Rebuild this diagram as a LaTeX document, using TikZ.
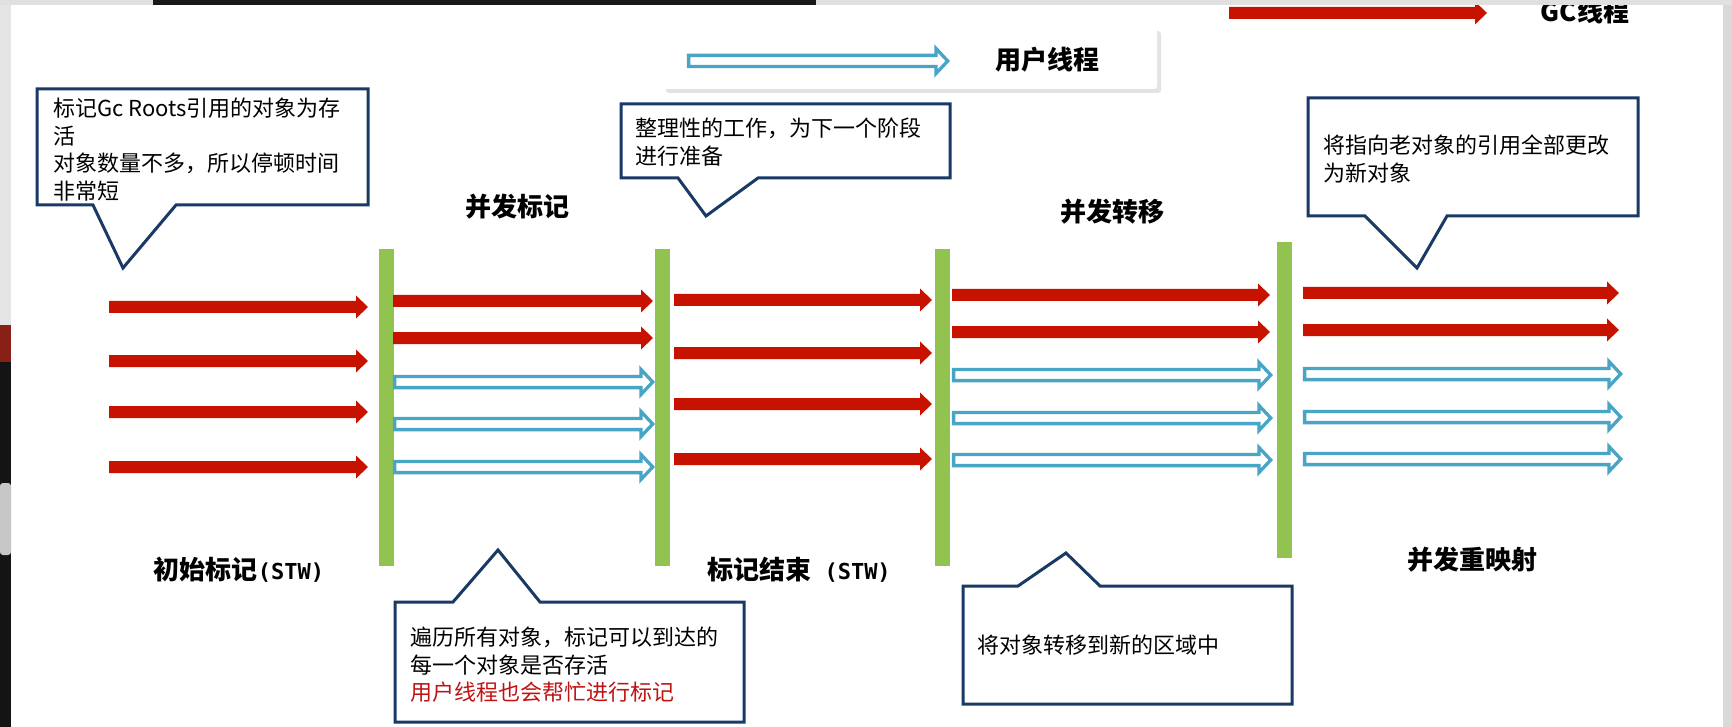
\documentclass[tikz,border=0pt]{standalone}
\usepackage{fontspec}
\setmainfont{Noto Sans CJK SC}
\newfontfamily\stwfont{DejaVu Sans Mono}
\usetikzlibrary{calc,shadows}
\definecolor{gcred}{RGB}{200,18,0}
\definecolor{ublue}{RGB}{72,165,198}
\definecolor{bargreen}{RGB}{146,194,80}
\definecolor{navy}{RGB}{24,58,100}
\definecolor{txtred}{RGB}{192,20,20}
\definecolor{edgered}{RGB}{170,40,30}
% red (GC thread) block arrow between two named coordinates
\newcommand\gcarrow[2]{\fill[gcred] ($(#1)+(0,-6)$) -- ($(#2)+(-12,-6)$) -- ($(#2)+(-12,-11.5)$) -- (#2) -- ($(#2)+(-12,11.5)$) -- ($(#2)+(-12,6)$) -- ($(#1)+(0,6)$) -- cycle;}
% hollow blue (user thread) block arrow between two named coordinates
\newcommand\usrarrow[2]{\draw[ublue, line width=3.3pt, fill=white, line join=miter] ($(#1)+(1.6,-5.6)$) -- ($(#2)+(-14,-5.6)$) -- ($(#2)+(-14,-12.5)$) -- ($(#2)+(-2.3,0)$) -- ($(#2)+(-14,12.5)$) -- ($(#2)+(-14,5.6)$) -- ($(#1)+(1.6,5.6)$) -- cycle;}
\begin{document}
\begin{tikzpicture}[x=1pt,y=-1pt,
  bar/.style={fill=bargreen, inner sep=0pt, minimum width=15pt, minimum height=317pt},
  callout/.style={draw=navy, line width=3pt, fill=white, line join=miter},
  body/.style={anchor=north west, inner sep=0pt, align=left, font=\fontsize{22}{27.5}\selectfont},
  phase/.style={inner sep=0pt, font=\fontsize{26}{30}\selectfont\bfseries}
]
\useasboundingbox (0,0) rectangle (1732,727);
\fill[white] (0,0) rectangle (1732,727);

% legend
\node[fill=white, rounded corners=3pt, minimum width=495pt, minimum height=62pt, inner sep=0pt,
      drop shadow={shadow xshift=4pt, shadow yshift=-4pt, opacity=0.22}] (legend) at (909.5,58) {};
\coordinate (lu1) at (687,61); \coordinate (lu2) at (950,61);
\usrarrow{lu1}{lu2}
\node[phase] (lgu) at (1047,60) {用户线程};
\coordinate (lg1) at (1229,13); \coordinate (lg2) at (1487,13);
\gcarrow{lg1}{lg2}
\node[phase] (lgg) at (1585,12) {GC线程};

% phase bars
\node[bar] (b1) at (386.5,407.5) {};
\node[bar] (b2) at (662.5,407.5) {};
\node[bar] (b3) at (942.5,407.5) {};
\node[bar, minimum height=316pt] (b4) at (1284,400) {};

% segment A: initial mark
\foreach \n/\y in {1/307,2/361,3/412,4/467}{
  \coordinate (as\n) at (109,\y); \coordinate (ae\n) at (368,\y);
  \gcarrow{as\n}{ae\n}
}
% segment B: concurrent mark
\foreach \n/\y in {1/301,2/338}{
  \coordinate (bs\n) at (393,\y); \coordinate (be\n) at (653,\y);
  \gcarrow{bs\n}{be\n}
}
\foreach \n/\y in {3/382,4/424,5/467}{
  \coordinate (bs\n) at (393,\y); \coordinate (be\n) at (655,\y);
  \usrarrow{bs\n}{be\n}
}
% segment C: mark end
\foreach \n/\y in {1/300,2/353,3/404,4/459}{
  \coordinate (cs\n) at (674,\y); \coordinate (ce\n) at (932,\y);
  \gcarrow{cs\n}{ce\n}
}
% segment D: concurrent relocate
\foreach \n/\y in {1/295,2/332}{
  \coordinate (ds\n) at (952,\y); \coordinate (de\n) at (1270,\y);
  \gcarrow{ds\n}{de\n}
}
\foreach \n/\y in {3/375,4/418,5/460}{
  \coordinate (ds\n) at (952,\y); \coordinate (de\n) at (1273,\y);
  \usrarrow{ds\n}{de\n}
}
% segment E: concurrent remap
\foreach \n/\y in {1/293,2/330}{
  \coordinate (es\n) at (1303,\y); \coordinate (ee\n) at (1619,\y);
  \gcarrow{es\n}{ee\n}
}
\foreach \n/\y in {3/374,4/417,5/459}{
  \coordinate (es\n) at (1303,\y); \coordinate (ee\n) at (1623,\y);
  \usrarrow{es\n}{ee\n}
}

% callouts
\draw[callout] (37,89) -- (368,89) -- (368,205) -- (176,205) -- (123,268) -- (93,205) -- (37,205) -- cycle;
\node[body] (t1) at (53,98) {标记Gc Roots引用的对象为存\\活\\对象数量不多，所以停顿时间\\非常短};

\draw[callout] (621,104) -- (950,104) -- (950,178) -- (758,178) -- (706,216) -- (678,178) -- (621,178) -- cycle;
\node[body] (t2) at (635,118) {整理性的工作，为下一个阶段\\进行准备};

\draw[callout] (1308,98) -- (1638,98) -- (1638,216) -- (1447,216) -- (1417,268) -- (1365,216) -- (1308,216) -- cycle;
\node[body] (t3) at (1323,135) {将指向老对象的引用全部更改\\为新对象};

\draw[callout] (395,602) -- (453,602) -- (498,550) -- (540,602) -- (744,602) -- (744,722) -- (395,722) -- cycle;
\node[body] (t4) at (410,627) {遍历所有对象，标记可以到达的\\每一个对象是否存活\\{\color{txtred}用户线程也会帮忙进行标记}};

\draw[callout] (963,586) -- (1018,586) -- (1066,553) -- (1100,586) -- (1292,586) -- (1292,704) -- (963,704) -- cycle;
\node[body] (t5) at (977,635) {将对象转移到新的区域中};

% phase labels
\node[phase] (p1) at (239,570) {初始标记{\stwfont\bfseries\fontsize{22}{26}\selectfont(STW)}};
\node[phase] (p2) at (517,207) {并发标记};
\node[phase] (p3) at (799,570) {标记结束{\stwfont\bfseries\fontsize{22}{26}\selectfont\ (STW)}};
\node[phase] (p4) at (1112,212) {并发转移};
\node[phase] (p5) at (1472,560) {并发重映射};

% screen edges
\fill[black!12] (0,0) rectangle (1732,5);
\fill[black!90] (153,0) rectangle (816,5);
\fill[black!10] (0,5) rectangle (11,325);
\fill[edgered!80!black] (0,325) rectangle (11,362);
\fill[black!92] (0,362) rectangle (11,727);
\fill[black!22, rounded corners=3pt] (0,483) rectangle (11,555);
\fill[black!15] (1723,5) rectangle (1732,727);
\end{tikzpicture}
\end{document}
